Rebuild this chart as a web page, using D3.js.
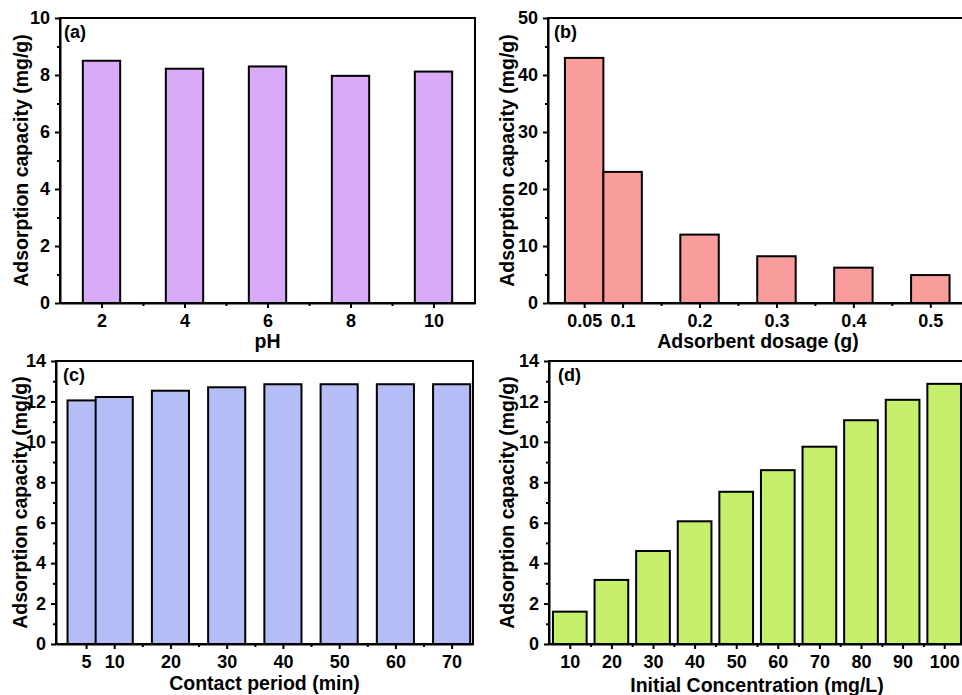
<!DOCTYPE html>
<html>
<head>
<meta charset="utf-8">
<script src="https://cdn.jsdelivr.net/npm/d3@7/dist/d3.min.js"></script>
<style>
  html, body { margin: 0; padding: 0; background: #fff; }
  svg { display: block; font-family: "Liberation Sans", Arial, sans-serif; font-weight: bold; }
  .axis path, .axis line { stroke: #000; stroke-width: 2; }
  .axis text { font-size: 18px; font-weight: bold; fill: #000; }
</style>
</head>
<body>
<svg id="fig" width="962" height="695"></svg>
<script>
// (a) effect of pH
const phLevels = [2, 4, 6, 8, 10];
const phCapacity = [8.5, 8.22, 8.3, 7.97, 8.12];
const phTicks = [2, 4, 6, 8, 10];
const phMinor = [3, 5, 7, 9];

// (b) effect of adsorbent dosage
const dosage = [0.05, 0.1, 0.2, 0.3, 0.4, 0.5];
const dosageCapacity = [43, 23, 12, 8.2, 6.2, 4.9];
const dosageTicks = [0.05, 0.1, 0.2, 0.3, 0.4, 0.5];
const dosageTickLabels = ["0.05", "0.1", "0.2", "0.3", "0.4", "0.5"];
const dosageMinor = [0.15, 0.25, 0.35, 0.45];

// (c) effect of contact period
const contactTime = [5, 10, 20, 30, 40, 50, 60, 70];
const contactCapacity = [12.05, 12.22, 12.53, 12.7, 12.85, 12.85, 12.85, 12.85];
const contactTicks = [5, 10, 20, 30, 40, 50, 60, 70];
const contactMinor = [15, 25, 35, 45, 55, 65];

// (d) effect of initial concentration
const concentration = [10, 20, 30, 40, 50, 60, 70, 80, 90, 100];
const concentrationCapacity = [1.6, 3.17, 4.6, 6.07, 7.53, 8.6, 9.76, 11.07, 12.08, 12.87];
const concentrationTicks = [10, 20, 30, 40, 50, 60, 70, 80, 90, 100];
const concentrationMinor = [15, 25, 35, 45, 55, 65, 75, 85, 95];

const yTicks10 = [0, 2, 4, 6, 8, 10];
const yMinor10 = [1, 3, 5, 7, 9];
const yTicks50 = [0, 10, 20, 30, 40, 50];
const yMinor50 = [5, 15, 25, 35, 45];
const yTicks14 = [0, 2, 4, 6, 8, 10, 12, 14];
const yMinor14 = [1, 3, 5, 7, 9, 11, 13];

const yTitle = "Adsorption capacity (mg/g)";

const svg = d3.select("#fig");

function drawPanel(p) {
  const g = svg.append("g");
  const x = d3.scaleLinear().domain(p.xDomain).range([p.left, p.right]);
  const y = d3.scaleLinear().domain(p.yDomain).range([p.bottom, p.top]);
  const w = p.barWidth;

  // frame (top and right spines)
  g.append("rect")
    .attr("x", p.left).attr("y", p.top)
    .attr("width", p.right - p.left).attr("height", p.bottom - p.top)
    .attr("fill", "none").attr("stroke", "#000").attr("stroke-width", 2);

  // bars
  g.selectAll("rect.bar")
    .data(p.xs.map((v, i) => ({ x: v, y: p.ys[i] })))
    .enter().append("rect")
    .attr("class", "bar")
    .attr("x", d => x(d.x - w / 2))
    .attr("width", d => x(d.x + w / 2) - x(d.x - w / 2))
    .attr("y", d => y(d.y))
    .attr("height", d => y(0) - y(d.y))
    .attr("fill", p.fill)
    .attr("stroke", "#000")
    .attr("stroke-width", 2);

  // x axis
  const xAxis = d3.axisBottom(x).tickValues(p.xTicks).tickSize(5).tickPadding(6)
    .tickSizeOuter(0);
  if (p.xTickLabels) xAxis.tickFormat((d, i) => p.xTickLabels[i]);
  g.append("g").attr("class", "axis").attr("transform", `translate(0,${p.bottom})`).call(xAxis);
  g.append("g").attr("class", "axis").attr("transform", `translate(0,${p.bottom})`)
    .call(d3.axisBottom(x).tickValues(p.xMinor).tickSize(3).tickFormat("").tickSizeOuter(0))
    .select(".domain").remove();

  // y axis
  g.append("g").attr("class", "axis").attr("transform", `translate(${p.left},0)`)
    .call(d3.axisLeft(y).tickValues(p.yTicks).tickSize(5).tickPadding(5).tickSizeOuter(0));
  g.append("g").attr("class", "axis").attr("transform", `translate(${p.left},0)`)
    .call(d3.axisLeft(y).tickValues(p.yMinor).tickSize(3).tickFormat("").tickSizeOuter(0))
    .select(".domain").remove();

  // axis titles
  g.append("text")
    .attr("x", (p.left + p.right) / 2).attr("y", p.bottom + p.xTitleOffset)
    .attr("text-anchor", "middle").attr("font-size", 19.5).attr("fill", "#000")
    .text(p.xTitle);
  g.append("text")
    .attr("transform", `translate(${p.left - p.yTitleOffset},${(p.top + p.bottom) / 2}) rotate(-90)`)
    .attr("text-anchor", "middle").attr("font-size", 19.5).attr("fill", "#000")
    .text(yTitle);

  // panel tag
  g.append("text")
    .attr("x", p.left + p.tagDx).attr("y", p.top + 20)
    .attr("font-size", 18).attr("fill", "#000")
    .text(p.tag);
}

drawPanel({
  tag: "(a)", xs: phLevels, ys: phCapacity, fill: "#d9aaf7",
  left: 60, right: 475, top: 18, bottom: 303,
  xDomain: [1, 11], yDomain: [0, 10], barWidth: 0.9,
  xTicks: phTicks, xMinor: phMinor, yTicks: yTicks10, yMinor: yMinor10,
  xTitle: "pH", xTitleOffset: 45, yTitleOffset: 32, tagDx: 4
});

drawPanel({
  tag: "(b)", xs: dosage, ys: dosageCapacity, fill: "#f89c9c",
  left: 548, right: 968, top: 18, bottom: 303,
  xDomain: [0.003, 0.549], yDomain: [0, 50], barWidth: 0.05,
  xTicks: dosageTicks, xTickLabels: dosageTickLabels, xMinor: dosageMinor,
  yTicks: yTicks50, yMinor: yMinor50,
  xTitle: "Adsorbent dosage (g)", xTitleOffset: 45, yTitleOffset: 34, tagDx: 6
});

drawPanel({
  tag: "(c)", xs: contactTime, ys: contactCapacity, fill: "#b4bdf5",
  left: 56, right: 473, top: 361, bottom: 644,
  xDomain: [-0.35, 73.8], yDomain: [0, 14], barWidth: 6.6,
  xTicks: contactTicks, xMinor: contactMinor, yTicks: yTicks14, yMinor: yMinor14,
  xTitle: "Contact period (min)", xTitleOffset: 46, yTitleOffset: 29, tagDx: 7
});

drawPanel({
  tag: "(d)", xs: concentration, ys: concentrationCapacity, fill: "#c6ef6c",
  left: 549, right: 965, top: 361, bottom: 644,
  xDomain: [5, 105], yDomain: [0, 14], barWidth: 8.1,
  xTicks: concentrationTicks, xMinor: concentrationMinor, yTicks: yTicks14, yMinor: yMinor14,
  xTitle: "Initial Concentration (mg/L)", xTitleOffset: 48, yTitleOffset: 35, tagDx: 9
});
</script>
</body>
</html>
